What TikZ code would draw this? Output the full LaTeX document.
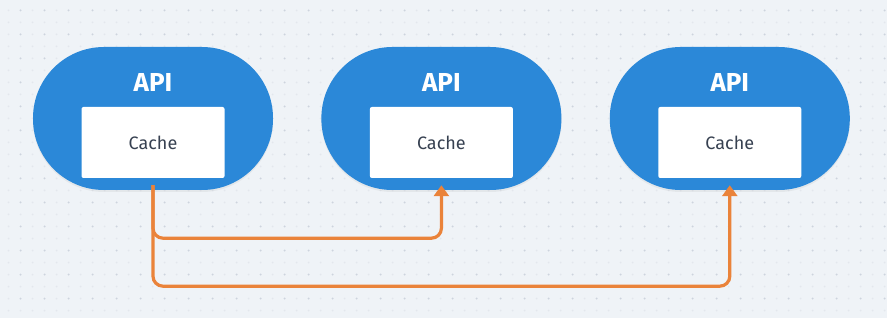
\documentclass[tikz,border=0pt]{standalone}
\usepackage{fontspec}
\setmainfont{Fira Sans}
\usepackage{xcolor}
\definecolor{pagebg}{RGB}{239, 243, 247}
\definecolor{griddot}{RGB}{205, 212, 222}
\definecolor{apiblue}{RGB}{43, 136, 216}
\definecolor{cachetext}{RGB}{55, 65, 81}
\definecolor{linkorange}{RGB}{234, 131, 58}
\usetikzlibrary{positioning, arrows.meta, shadows}

\begin{document}
\begin{tikzpicture}[
  x=1pt, y=-1pt,
  apibox/.style={rectangle, rounded corners=71pt, fill=apiblue, minimum width=240pt, minimum height=143pt, inner sep=0pt,
    drop shadow={opacity=0.10, shadow xshift=0pt, shadow yshift=-2pt}},
  apilabel/.style={font=\fontsize{26}{28}\selectfont\bfseries, text=white, inner sep=0pt},
  cachebox/.style={rectangle, rounded corners=2pt, fill=white, minimum width=143pt, minimum height=71pt, inner sep=0pt,
    font=\fontsize{18}{20}\selectfont, text=cachetext},
  link/.style={draw=linkorange, line width=3.2pt, rounded corners=10pt, shorten <=7pt, shorten >=7pt,
    -{Triangle[width=15pt, length=11pt]}}
]
  % Background
  \useasboundingbox (0,0) rectangle (887,318);
  \fill[pagebg] (0,0) rectangle (887,318);
  \foreach \i in {0,...,73}
    \foreach \j in {0,...,25}
      \fill[griddot!55] (8.5+12*\i, 10.5+12*\j) circle (1pt);
  \foreach \i in {0,...,36}
    \foreach \j in {0,...,12}
      \fill[griddot] (20.5+24*\i, 10.5+24*\j) circle (1pt);

  % Nodes
  \node[apibox] (api1) at (153,118.5) {};
  \node[apibox, right=48pt of api1] (api2) {};
  \node[apibox, right=48pt of api2] (api3) {};

  \node[apilabel] (title1) at ([yshift=-36pt]api1.north) {API};
  \node[apilabel] (title2) at ([yshift=-36pt]api2.north) {API};
  \node[apilabel] (title3) at ([yshift=-36pt]api3.north) {API};

  \node[cachebox] (cache1) at ([yshift=-24pt]api1.center) {Cache};
  \node[cachebox] (cache2) at ([yshift=-24pt]api2.center) {Cache};
  \node[cachebox] (cache3) at ([yshift=-24pt]api3.center) {Cache};

  % Arrows
  \draw[link] (cache1.south) |- ([yshift=-60pt]cache2.south) -- (cache2.south);
  \draw[link] (cache1.south) |- ([yshift=-108pt]cache3.south) -- (cache3.south);
\end{tikzpicture}
\end{document}
